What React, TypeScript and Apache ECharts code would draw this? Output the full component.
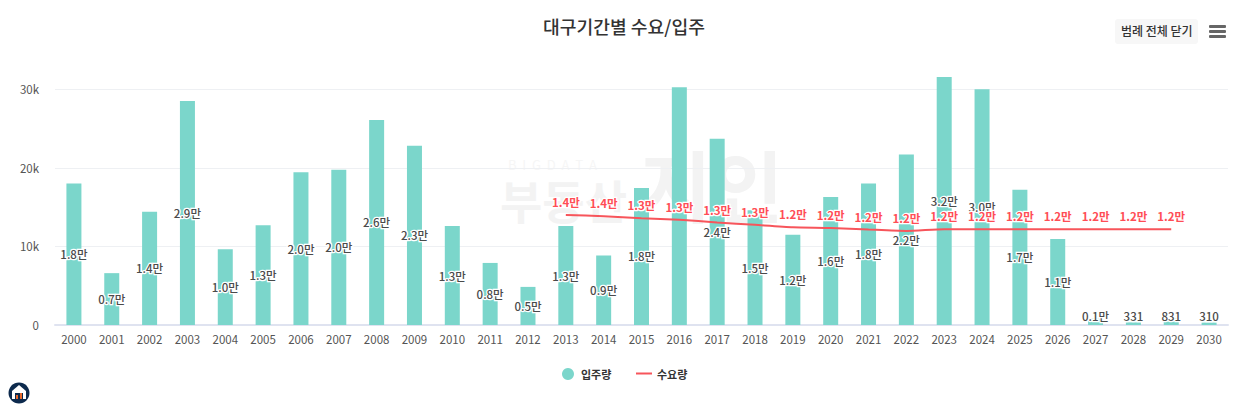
import React, { useEffect, useRef } from "react";
import * as echarts from "echarts";

const years = ["2000","2001","2002","2003","2004","2005","2006","2007","2008","2009","2010","2011","2012","2013","2014","2015","2016","2017","2018","2019","2020","2021","2022","2023","2024","2025","2026","2027","2028","2029","2030"];
const supply = [18000,6600,14400,28500,9650,12700,19450,19750,26100,22800,12600,7900,4850,12600,8850,17450,30250,23700,14600,11500,16300,18000,21700,31550,30000,17200,10950,800,331,831,310];
const supplyLabels = ["1.8만","0.7만","1.4만","2.9만","1.0만","1.3만","2.0만","2.0만","2.6만","2.3만","1.3만","0.8만","0.5만","1.3만","0.9만","1.8만","","2.4만","1.5만","1.2만","1.6만","1.8만","2.2만","3.2만","3.0만","1.7만","1.1만","0.1만","331","831","310"];
const demand = [null,null,null,null,null,null,null,null,null,null,null,null,null,14000,13850,13600,13400,13050,12750,12450,12350,12150,11980,12200,12200,12200,12200,12200,12200,12200,null];
const demandLabels = ["","","","","","","","","","","","","","1.4만","1.4만","1.3만","1.3만","1.3만","1.3만","1.2만","1.2만","1.2만","1.2만","1.2만","1.2만","1.2만","1.2만","1.2만","1.2만","1.2만",""];
const yTicks: Record<number, string> = { 0: "0", 10000: "10k", 20000: "20k", 30000: "30k" };

const titleText = "대구기간별 수요/입주";
const buttonText = "범례 전체 닫기";
const supplyName = "입주량";
const demandName = "수요량";
const watermarkSmall = "B  I  G  D  A  T  A";
const watermarkMid = "부동산";
const watermarkBig = "지인";

const FONT = '"Noto Sans CJK KR", "Noto Sans", sans-serif';

export default function App() {
  const ref = useRef<HTMLDivElement>(null);
  useEffect(() => {
    const chart = echarts.init(ref.current!, null, { renderer: "svg" });
    chart.setOption({
      animation: false,
      textStyle: { fontFamily: FONT },
      title: {
        text: titleText,
        left: 619,
        top: 12,
        textAlign: "center",
        textStyle: { fontFamily: FONT, fontSize: 18.2, fontWeight: 500, color: "#333333" },
      },
      grid: { left: 55, right: 18, top: 89.3, bottom: 85 },
      legend: [
        {
          data: [{ name: supplyName, icon: "circle" }],
          left: 557,
          top: 363,
          itemWidth: 12,
          itemHeight: 12,
          itemGap: 0,
          textStyle: { fontFamily: FONT, fontSize: 11, fontWeight: 700, color: "#333333", padding: [0, 0, 0, 2] },
        },
        {
          data: [{ name: demandName, icon: "rect" }],
          left: 631,
          top: 363,
          itemWidth: 16,
          itemHeight: 2,
          itemGap: 0,
          textStyle: { fontFamily: FONT, fontSize: 11, fontWeight: 700, color: "#333333" },
        },
      ],
      xAxis: {
        type: "category",
        data: years,
        boundaryGap: true,
        axisTick: { show: false },
        axisLine: { lineStyle: { color: "#dfe3f0", width: 2 } },
        axisLabel: { interval: 0, fontFamily: FONT, fontSize: 11.5, color: "#555555", margin: 8 },
      },
      yAxis: {
        type: "value",
        min: 0,
        max: 30000,
        interval: 10000,
        axisLine: { show: false },
        axisTick: { show: false },
        splitLine: { lineStyle: { color: "#eef0f3", width: 1 } },
        axisLabel: {
          fontFamily: FONT,
          fontSize: 11.5,
          color: "#555555",
          margin: 16,
          padding: [0, 0, 6, 0],
          formatter: (v: number) => yTicks[v] ?? "",
        },
      },
      series: [
        {
          name: supplyName,
          type: "bar",
          data: supply,
          barWidth: 15,
          clip: false,
          itemStyle: { color: "#7bd6cb" },
          label: {
            show: true,
            position: "inside",
            formatter: (p: any) => supplyLabels[p.dataIndex],
            fontFamily: FONT,
            fontSize: 11.5,
            fontWeight: 500,
            color: "#4a4a4a",
            textBorderColor: "#ffffff",
            textBorderWidth: 2.5,
            offset: [0, -1],
          },
          labelLayout: (p: any) => (p.dataIndex >= 27 ? { y: 316, align: "center", verticalAlign: "middle" } : {}),
        },
        {
          name: demandName,
          type: "line",
          data: demand,
          smooth: 0.2,
          connectNulls: false,
          showSymbol: true,
          showAllSymbol: true,
          symbol: "circle",
          symbolSize: 0,
          lineStyle: { color: "#f7555b", width: 2 },
          itemStyle: { color: "#f7555b" },
          label: {
            show: true,
            position: "top",
            distance: 7,
            formatter: (p: any) => demandLabels[p.dataIndex],
            fontFamily: FONT,
            fontSize: 11.5,
            fontWeight: 700,
            color: "#ff4d55",
            textBorderColor: "#ffffff",
            textBorderWidth: 2.5,
          },
          z: 5,
        },
      ],
      graphic: [
        { type: "text", z: -1, left: 508, top: 158, style: { text: watermarkSmall, fontFamily: FONT, fontSize: 13, fill: "#f6f6f6" } },
        { type: "text", z: -1, left: 500, top: 176, style: { text: watermarkMid, fontFamily: FONT, fontSize: 46, fontWeight: 700, fill: "#f3f3f3" } },
        { type: "text", z: -1, left: 640, top: 144, style: { text: watermarkBig, fontFamily: FONT, fontSize: 78, fontWeight: 700, fill: "#f3f3f3" } },
        { type: "rect", left: 1115, top: 19, shape: { width: 83, height: 25, r: 3 }, style: { fill: "#f7f7f7" } },
        { type: "text", left: 1121, top: 24, style: { text: buttonText, fontFamily: FONT, fontSize: 12, fontWeight: 500, fill: "#333333" } },
        { type: "rect", left: 1209, top: 25, shape: { width: 17, height: 3, r: 1 }, style: { fill: "#666666" } },
        { type: "rect", left: 1209, top: 30, shape: { width: 17, height: 3, r: 1 }, style: { fill: "#666666" } },
        { type: "rect", left: 1209, top: 35, shape: { width: 17, height: 3, r: 1 }, style: { fill: "#666666" } },
        { type: "ellipse", shape: { cx: 19, cy: 393, rx: 10.5, ry: 10.5 }, style: { fill: "#0d2a4d" } },
        { type: "polygon", shape: { points: [[19, 385], [26, 391], [26, 399], [12, 399], [12, 391]] }, style: { fill: "#ffffff" } },
        { type: "rect", shape: { x: 15, y: 393, width: 8, height: 6 }, style: { fill: "#0d2a4d" } },
        { type: "rect", shape: { x: 16, y: 395, width: 2, height: 4 }, style: { fill: "#e8692c" } },
        { type: "rect", shape: { x: 20, y: 393, width: 2, height: 6 }, style: { fill: "#e8692c" } },
      ],
    });
    return () => chart.dispose();
  }, []);
  return <div ref={ref} style={{ position: "absolute", left: 0, top: 0, width: 1246, height: 410 }} />;
}
